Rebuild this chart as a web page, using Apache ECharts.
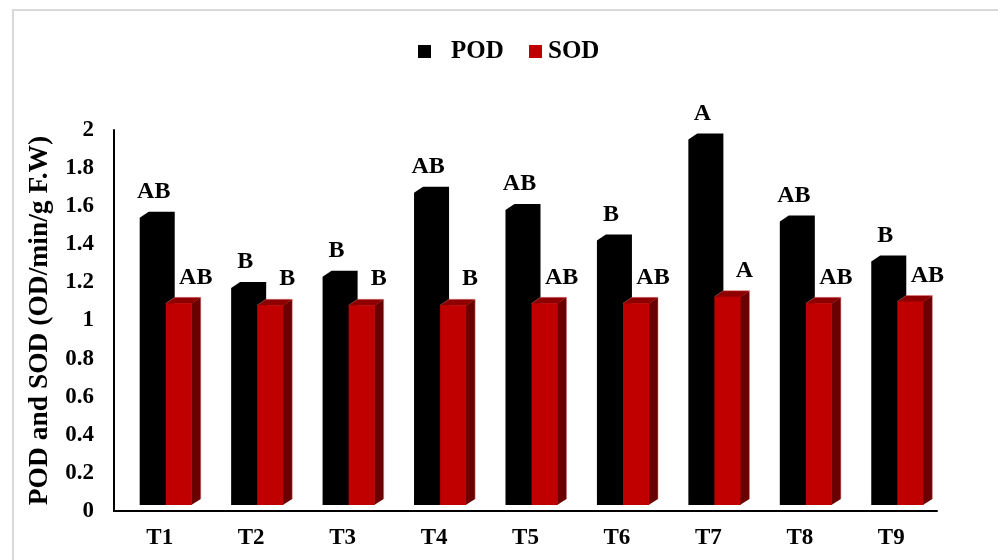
<!DOCTYPE html>
<html>
<head>
<meta charset="utf-8">
<script src="https://cdn.jsdelivr.net/npm/echarts@6/dist/echarts.min.js"></script>
<style>html,body{margin:0;padding:0;background:#fff}#chart{width:998px;height:560px}</style>
</head>
<body>
<div id="chart"></div>
<script>
const categories = ['T1','T2','T3','T4','T5','T6','T7','T8','T9'];
const podValues = [1.54, 1.17, 1.23, 1.67, 1.58, 1.42, 1.95, 1.52, 1.31];
const sodValues = [1.09, 1.08, 1.08, 1.08, 1.09, 1.09, 1.125, 1.09, 1.10];
const podLetters = ['AB','B','B','AB','AB','B','A','AB','B'];
const sodLetters = ['AB','B','B','B','AB','AB','A','AB','AB'];
const yTicks = {min: 0, max: 2, interval: 0.2};

const FONT = "'Liberation Serif', 'Times New Roman', serif";

function makeRender(kind, letters, colors) {
  return function (params, api) {
    const i = api.value(0), v = api.value(1);
    const base = api.coord([i, 0]);
    const top = api.coord([i, v]);
    const band = api.size([1, 0])[0];
    const w = band * 0.285;
    const dx = band * 0.098, dy = 6;
    const c = base[0];
    const x0 = kind === 0 ? c - band * 0.219 : c + band * 0.066;
    const x1 = x0 + w;
    const yb = base[1] - 6;
    const yt = top[1];
    const children = [];
    if (kind === 0) {
      children.push({type: 'polygon', shape: {points: [[x0, yb], [x0, yt], [x0 + dx, yt - dy], [x1 + dx, yt - dy], [x1 + dx, yb - dy], [x1, yb]]},
        style: {fill: colors.front}});
    } else {
      children.push({type: 'polygon', shape: {points: [[x1 - 0.5, yb], [x1 + dx, yb - dy], [x1 + dx, yt - dy], [x1 - 0.5, yt + 0.5]]},
        style: {fill: colors.side}});
      children.push({type: 'polygon', shape: {points: [[x0, yt + 0.5], [x0 + dx, yt - dy], [x1 + dx, yt - dy], [x1, yt + 0.5]]},
        style: {fill: colors.top}});
      children.push({type: 'rect', shape: {x: x0, y: yt, width: w, height: yb - yt},
        style: {fill: colors.front}});
      children.push({type: 'polyline', shape: {points: [[x0, yt], [x0 + dx, yt - dy], [x1 + dx, yt - dy], [x1 + dx, yb - dy]]},
        style: {fill: 'none', stroke: 'rgba(230,120,120,0.5)', lineWidth: 1}});
    }
    const lx = kind === 0 ? (x0 + x1) / 2 + 1 : (x0 + x1) / 2 + 17;
    children.push({type: 'text', style: {text: letters[i], x: lx, y: yt - 26, align: 'center', verticalAlign: 'middle',
      font: 'bold 24px ' + FONT, fill: '#000'}});
    return {type: 'group', children: children};
  };
}

const chart = echarts.init(document.getElementById('chart'));
chart.setOption({
  backgroundColor: '#fff',
  animation: false,
  graphic: [{type: 'rect', shape: {x: 13, y: 10, width: 1100, height: 700}, style: {fill: 'none', stroke: '#d9d9d9', lineWidth: 2}, silent: true}],
  legend: [
    {data: ['POD'], left: 418, top: 39, padding: 0, icon: 'rect', itemWidth: 13, itemHeight: 13,
      textStyle: {fontFamily: FONT, fontWeight: 'bold', fontSize: 25, color: '#000', padding: [0, 0, 0, 15]}},
    {data: ['SOD'], left: 529, top: 39, padding: 0, icon: 'rect', itemWidth: 13, itemHeight: 13,
      textStyle: {fontFamily: FONT, fontWeight: 'bold', fontSize: 25, color: '#000', padding: [0, 0, 0, 1]}}
  ],
  grid: {left: 114, right: 61, top: 130, bottom: 49},
  xAxis: {type: 'category', data: categories,
    axisLine: {lineStyle: {color: '#000', width: 2}}, axisTick: {show: false},
    axisLabel: {fontFamily: FONT, fontWeight: 'bold', fontSize: 23, color: '#000', margin: 16}},
  yAxis: {type: 'value', min: yTicks.min, max: yTicks.max, interval: yTicks.interval,
    name: 'POD and SOD (OD/min/g F.W)', nameLocation: 'middle', nameGap: 57,
    nameTextStyle: {fontFamily: FONT, fontWeight: 'bold', fontSize: 27.5, color: '#000'},
    axisLine: {show: true, lineStyle: {color: '#000', width: 2}}, axisTick: {show: false},
    splitLine: {show: false},
    axisLabel: {fontFamily: FONT, fontWeight: 'bold', fontSize: 23, color: '#000', margin: 20}},
  series: [
    {name: 'POD', type: 'custom', itemStyle: {color: '#000'},
      renderItem: makeRender(0, podLetters, {front: '#000', top: '#000', side: '#000'}),
      encode: {x: 0, y: 1}, data: podValues.map((v, i) => [i, v])},
    {name: 'SOD', type: 'custom', itemStyle: {color: '#C00000'},
      renderItem: makeRender(1, sodLetters, {front: '#C00000', top: '#8E0000', side: '#6B0000'}),
      encode: {x: 0, y: 1}, data: sodValues.map((v, i) => [i, v])}
  ]
});
</script>
</body>
</html>
